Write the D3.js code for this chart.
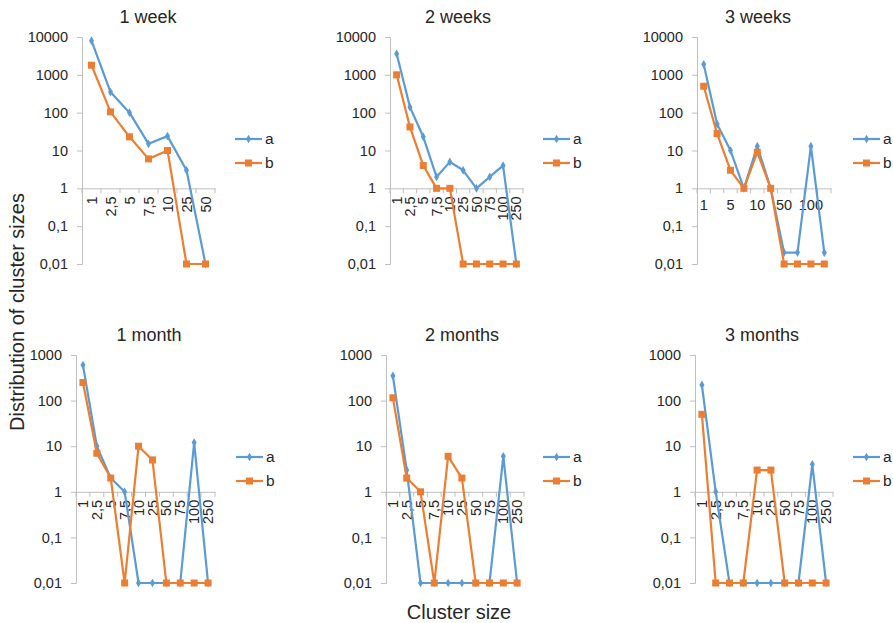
<!DOCTYPE html>
<html>
<head>
<meta charset="utf-8">
<script src="https://cdn.jsdelivr.net/npm/d3@7"></script>
<style>
	body { margin:0; background:#ffffff; }
	svg { display:block; font-family:"Liberation Sans", Arial, sans-serif; }
</style>
</head>
<body>
<div id="chart"></div>
<script>
// Categories
var sizesShort = ['1','2,5','5','7,5','10','25','50'];
var sizesLong = ['1','2,5','5','7,5','10','25','50','75','100','250'];
var seriesNames = ['a','b'];
var panelTitles = ['1 week','2 weeks','3 weeks','1 month','2 months','3 months'];
var ticksTop = [0.01,0.1,1,10,100,1000,10000];
var ticksBottom = [0.01,0.1,1,10,100,1000];

// Series values (0.01 stands for empty classes)
var week1A = [8000,350,100,15,24,3,0.01];
var week1B = [1800,105,23,6,10,0.01,0.01];
var week2A = [3600,140,23,2,5,3,1,2,4,0.01];
var week2B = [1000,42,4,1,1,0.01,0.01,0.01,0.01,0.01];
var week3A = [1900,50,10,1,13,1,0.02,0.02,13,0.02];
var week3B = [500,28,3,1,9,1,0.01,0.01,0.01,0.01];
var month1A = [600,10,2,1,0.01,0.01,0.01,0.01,12,0.01];
var month1B = [250,7,2,0.01,10,5,0.01,0.01,0.01,0.01];
var month2A = [350,3,0.01,0.01,0.01,0.01,0.01,0.01,6,0.01];
var month2B = [115,2,1,0.01,6,2,0.01,0.01,0.01,0.01];
var month3A = [220,1,0.01,0.01,0.01,0.01,0.01,0.01,4,0.01];
var month3B = [50,0.01,0.01,0.01,3,3,0.01,0.01,0.01,0.01];

var colors = ['#5b9bd5','#ed7d31'];

var W = 893, H = 623;
var svg = d3.select('#chart').append('svg')
	.attr('width',W)
	.attr('height',H);

// layout of each small chart
var panels = [
	{ title:panelTitles[0], cats:sizesShort, a:week1A, b:week1B, ticks:ticksTop,
	  x0:82, x1:215, y0:37, y1:264, tx:148, ty:23, lx:235, ly:139, labels:'rotated' }
	,{ title:panelTitles[1], cats:sizesLong, a:week2A, b:week2B, ticks:ticksTop,
	  x0:390, x1:523, y0:37, y1:264, tx:458, ty:23, lx:543, ly:139, labels:'rotated' }
	,{ title:panelTitles[2], cats:sizesLong, a:week3A, b:week3B, ticks:ticksTop,
	  x0:697, x1:831, y0:37, y1:264, tx:758, ty:23, lx:853, ly:139, labels:'alternate' }
	,{ title:panelTitles[3], cats:sizesLong, a:month1A, b:month1B, ticks:ticksBottom,
	  x0:76, x1:215, y0:355, y1:583, tx:149, ty:341, lx:236, ly:457, labels:'rotated' }
	,{ title:panelTitles[4], cats:sizesLong, a:month2A, b:month2B, ticks:ticksBottom,
	  x0:386, x1:524, y0:355, y1:583, tx:462, ty:341, lx:543, ly:457, labels:'rotated' }
	,{ title:panelTitles[5], cats:sizesLong, a:month3A, b:month3B, ticks:ticksBottom,
	  x0:695, x1:833, y0:355, y1:583, tx:762, ty:341, lx:853, ly:457, labels:'rotated' }
];

var fmt = function(d){ return String(d).replace('.',','); };
var axisColor = '#bfbfbf';
var textColor = '#262626';
var tickFont = 14.5;

function drawMarker(g, i, x, y){
	if( i === 0 ){
		g.append('path')
			.attr('d', d3.symbol().type(d3.symbolDiamond).size(22)())
			.attr('transform','translate('+x+','+y+')')
			.attr('fill',colors[0]);
	} else {
		g.append('rect')
			.attr('x',x-3.5).attr('y',y-3.5)
			.attr('width',7).attr('height',7)
			.attr('fill',colors[1]);
	};
};

panels.forEach(function(p){
	var g = svg.append('g');

	var x = d3.scaleBand()
		.domain(p.cats)
		.range([p.x0,p.x1]);
	var y = d3.scaleLog()
		.domain([p.ticks[0], p.ticks[p.ticks.length-1]])
		.range([p.y1,p.y0]);

	// title
	g.append('text')
		.attr('x',p.tx).attr('y',p.ty)
		.attr('text-anchor','middle')
		.attr('font-size',18)
		.attr('fill',textColor)
		.text(p.title);

	// y axis
	var yAxis = g.append('g')
		.attr('transform','translate('+p.x0+',0)')
		.call(d3.axisLeft(y).tickValues(p.ticks).tickFormat(fmt).tickSize(5).tickPadding(9));
	yAxis.selectAll('path,line').attr('stroke',axisColor);
	yAxis.selectAll('text').attr('font-size',tickFont).attr('fill',textColor)
		.attr('font-family','"Liberation Sans", Arial, sans-serif');

	// x axis crossing at 1
	var y1 = y(1);
	var xAxis = g.append('g')
		.attr('transform','translate(0,'+y1+')')
		.call(d3.axisBottom(x).tickSize(0).tickPadding(0));
	xAxis.select('.domain').attr('stroke',axisColor);
	xAxis.selectAll('text').attr('font-size',tickFont).attr('fill',textColor)
		.attr('font-family','"Liberation Sans", Arial, sans-serif');
	if( p.labels === 'rotated' ){
		xAxis.selectAll('text')
			.attr('text-anchor','end')
			.attr('transform','translate(0,8) rotate(-90)')
			.attr('x',0).attr('y',0).attr('dy','0.35em');
	} else {
		xAxis.selectAll('text')
			.attr('y',11).attr('dy','0.71em')
			.style('display',function(d,i){ return i%2 ? 'none' : null; });
	};
	// tick marks between categories
	var bounds = d3.range(p.cats.length+1).map(function(i){ return p.x0 + i*x.step(); });
	g.append('g').selectAll('line')
		.data(bounds)
		.join('line')
		.attr('x1',function(d){ return d; }).attr('x2',function(d){ return d; })
		.attr('y1',y1).attr('y2',y1+5)
		.attr('stroke',axisColor);

	// series
	[p.a, p.b].forEach(function(vals,si){
		var pts = vals.map(function(v,i){ return [x(p.cats[i]) + x.bandwidth()/2, y(v)]; });
		g.append('path')
			.attr('d', d3.line()(pts))
			.attr('fill','none')
			.attr('stroke',colors[si])
			.attr('stroke-width',2.2)
			.attr('stroke-linejoin','round');
		var mg = g.append('g');
		pts.forEach(function(pt){ drawMarker(mg, si, pt[0], pt[1]); });
	});

	// legend
	seriesNames.forEach(function(name,si){
		var ly = p.ly + si*24;
		g.append('line')
			.attr('x1',p.lx).attr('x2',p.lx+27)
			.attr('y1',ly).attr('y2',ly)
			.attr('stroke',colors[si])
			.attr('stroke-width',2.2);
		drawMarker(g, si, p.lx+13.5, ly);
		g.append('text')
			.attr('x',p.lx+30).attr('y',ly)
			.attr('dy','0.35em')
			.attr('font-size',15.5)
			.attr('fill',textColor)
			.text(name);
	});
});

// shared axis titles
svg.append('text')
	.attr('transform','translate(24,312) rotate(-90)')
	.attr('text-anchor','middle')
	.attr('font-size',20)
	.attr('fill',textColor)
	.text('Distribution of cluster sizes');

svg.append('text')
	.attr('x',459).attr('y',619)
	.attr('text-anchor','middle')
	.attr('font-size',20)
	.attr('fill',textColor)
	.text('Cluster size');
</script>
</body>
</html>
